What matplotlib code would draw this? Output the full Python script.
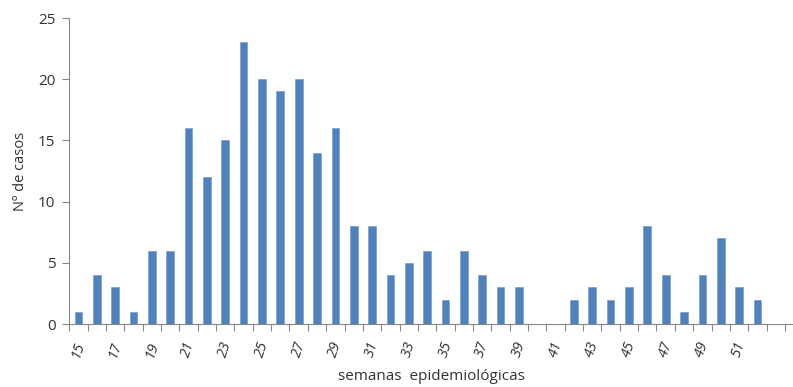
import numpy as np
import matplotlib
matplotlib.use("Agg")
import matplotlib.pyplot as plt

semanas = list(range(15, 55))
casos = [1, 4, 3, 1, 6, 6, 16, 12, 15, 23, 20, 19, 20, 14, 16, 8, 8, 4, 5, 6,
         2, 6, 4, 3, 3, 0, 0, 2, 3, 2, 3, 8, 4, 1, 4, 7, 3, 2, 0, 0]
rotulos = list(range(15, 52, 2))

plt.rcParams['font.family'] = ['Open Sans', 'DejaVu Sans']
cor_texto = '#333333'

fig = plt.figure(figsize=(7.93, 3.87), dpi=100)
ax = fig.add_axes([69.3 / 793, 63 / 387, 1 - 69.3 / 793, 306 / 387])

ax.bar(semanas, casos, width=0.42, color='#4F81BD', edgecolor='#6F97C8', linewidth=0.4)

ax.set_xlim(14.5, 53.94)
ax.set_ylim(0, 25)
ax.set_yticks([0, 5, 10, 15, 20, 25])

# ticks entre as barras (estilo excel), rotulos a cada 2 semanas
ax.set_xticks(np.arange(14.5, 54, 1), minor=True)
ax.set_xticks(rotulos)
ax.set_xticklabels([str(r) for r in rotulos], rotation=72, style='italic',
                   fontsize=10.5, ha='center', va='top', color=cor_texto)
ax.tick_params(axis='x', which='major', length=0, pad=11)
ax.tick_params(axis='x', which='minor', length=5, color='#888888', width=0.8)
ax.tick_params(axis='y', length=5, color='#888888', width=0.8, labelsize=11,
               pad=5, labelcolor=cor_texto)

for s in ['top', 'right']:
    ax.spines[s].set_visible(False)
ax.spines['left'].set_color('#888888')
ax.spines['bottom'].set_color('#888888')

ax.set_ylabel('Nº de casos', fontsize=10.5, labelpad=7, color=cor_texto)
ax.set_xlabel('semanas  epidemiológicas', fontsize=11, labelpad=7, color=cor_texto)

fig.savefig('out.png', dpi=100)
